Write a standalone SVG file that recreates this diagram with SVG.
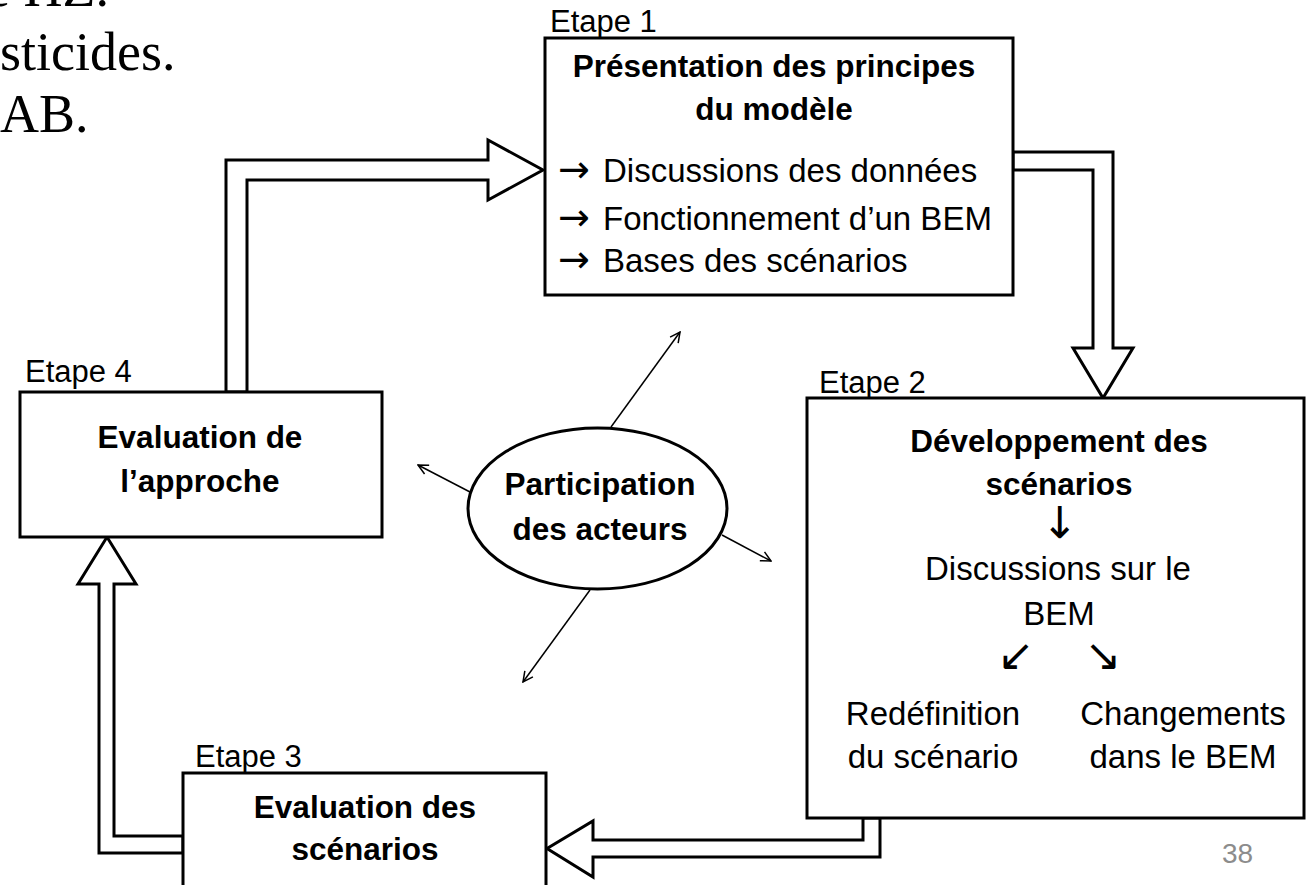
<svg xmlns="http://www.w3.org/2000/svg" width="1307" height="885" viewBox="0 0 1307 885">
  <style>
    .box { fill: #ffffff; stroke: #000000; stroke-width: 3; }
    .big { fill: #ffffff; stroke: #000000; stroke-width: 3; stroke-linejoin: miter; }
    .thin { fill: none; stroke: #000000; stroke-width: 1.5; }
    .lbl { font-family: "Liberation Sans", Arial, sans-serif; font-size: 31px; fill: #000000; }
    .txt { font-family: "Liberation Sans", Arial, sans-serif; font-size: 33px; fill: #000000; }
    .bold { font-family: "Liberation Sans", Arial, sans-serif; font-size: 31.5px; font-weight: bold; fill: #000000; }
    .mid { text-anchor: middle; }
    .arw { font-family: "DejaVu Sans", "Liberation Sans", sans-serif; font-size: 38px; fill: #000000; }
    .arw-d { font-family: "DejaVu Sans", "Liberation Sans", sans-serif; font-size: 44px; fill: #000000; }
    .serif { font-family: "Liberation Serif", "Times New Roman", serif; font-size: 54px; fill: #000000; }
    .pg { font-family: "Liberation Sans", Arial, sans-serif; font-size: 28px; fill: #8c8c8c; }
  </style>
  <defs>
    <marker id="open" viewBox="0 0 12 12" refX="11" refY="6" markerWidth="12" markerHeight="12" markerUnits="userSpaceOnUse" orient="auto">
      <path d="M1,1 L11,6 L1,11" fill="none" stroke="#000000" stroke-width="1.5"/>
    </marker>
  </defs>

  <!-- slide text continuing from the left -->
  <g id="slide-text">
    <text class="serif" x="-14" y="6">e HZ.</text>
    <text class="serif" x="0" y="70">sticides.</text>
    <text class="serif" x="0" y="132">AB.</text>
  </g>

  <!-- block arrows and actor links -->
  <g id="connectors">
    <polygon class="big" points="226,392 226,160 488,160 488,140 543,170 488,200 488,180 247,180 247,392"/>
    <polygon class="big" points="1013,152 1113,152 1113,348 1133,348 1103,398 1073,348 1093,348 1093,170 1013,170"/>
    <polygon class="big" points="863,818 863,840 593,840 593,821 547,848.5 593,877 593,857 880,857 880,818"/>
    <polygon class="big" points="183,853 99,853 99,584 78,584 107,537 136,584 114,584 114,836 183,836"/>
    <line class="thin" x1="611" y1="427" x2="680" y2="332" marker-end="url(#open)"/>
    <line class="thin" x1="470" y1="492" x2="418" y2="465" marker-end="url(#open)"/>
    <line class="thin" x1="722" y1="535" x2="771" y2="561" marker-end="url(#open)"/>
    <line class="thin" x1="590" y1="590" x2="523" y2="682" marker-end="url(#open)"/>
  </g>

  <g id="etape1">
    <text class="lbl" x="550" y="32">Etape 1</text>
    <rect class="box" x="545" y="38" width="468" height="257"/>
    <text class="bold mid" x="774" y="77">Présentation des principes</text>
    <text class="bold mid" x="774" y="120">du modèle</text>
    <text class="txt" x="558" y="182"><tspan class="arw">→</tspan> <tspan x="603">Discussions des données</tspan></text>
    <text class="txt" x="558" y="230"><tspan class="arw">→</tspan> <tspan x="603">Fonctionnement d’un BEM</tspan></text>
    <text class="txt" x="558" y="272"><tspan class="arw">→</tspan> <tspan x="603">Bases des scénarios</tspan></text>
  </g>

  <g id="etape2">
    <text class="lbl" x="819" y="393">Etape 2</text>
    <rect class="box" x="807" y="398" width="497" height="420"/>
    <text class="bold mid" x="1059" y="452">Développement des</text>
    <text class="bold mid" x="1059" y="495">scénarios</text>
    <text class="arw-d mid" x="1060" y="538">↓</text>
    <text class="txt mid" x="1058" y="580">Discussions sur le</text>
    <text class="txt mid" x="1059" y="625">BEM</text>
    <text class="arw-d mid" x="1016" y="670">↙</text>
    <text class="arw-d mid" x="1103" y="670">↘</text>
    <text class="txt mid" x="933" y="725">Redéfinition</text>
    <text class="txt mid" x="933" y="768">du scénario</text>
    <text class="txt mid" x="1183" y="725">Changements</text>
    <text class="txt mid" x="1183" y="768">dans le BEM</text>
  </g>

  <g id="etape3">
    <text class="lbl" x="195" y="767">Etape 3</text>
    <rect class="box" x="183" y="773" width="363" height="130"/>
    <text class="bold mid" x="365" y="818">Evaluation des</text>
    <text class="bold mid" x="365" y="860">scénarios</text>
  </g>

  <g id="etape4">
    <text class="lbl" x="25" y="382">Etape 4</text>
    <rect class="box" x="20" y="392" width="362" height="145"/>
    <text class="bold mid" x="200" y="448">Evaluation de</text>
    <text class="bold mid" x="200" y="492">l’approche</text>
  </g>

  <g id="participation">
    <ellipse class="box" cx="597.5" cy="508.5" rx="129.5" ry="80.5"/>
    <text class="bold mid" x="600" y="495">Participation</text>
    <text class="bold mid" x="600" y="540">des acteurs</text>
  </g>

  <g id="page-number">
    <text class="pg" x="1222" y="863">38</text>
  </g>
</svg>
